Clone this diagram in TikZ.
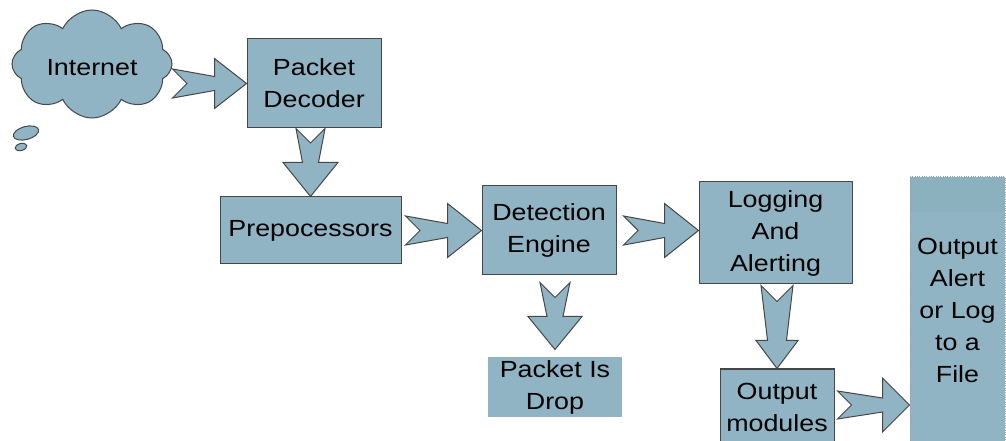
\documentclass[tikz,border=0pt]{standalone}
\usepackage{fontspec}
\setmainfont{Liberation Sans}[FakeStretch=1.15]
\usetikzlibrary{calc,shapes.symbols}

\definecolor{boxfill}{RGB}{144,180,196}
\definecolor{bandfill}{RGB}{139,176,190}
\definecolor{boxline}{RGB}{70,70,70}

% notched block arrow: from, to, tail half width, neck half width, head half width, head length
\newcommand{\notcharrow}[6]{%
  \path[arrowbody] let \p1=#1, \p2=#2,
      \n1={atan2(\y2-\y1,\x2-\x1)}, \n2={veclen(\x2-\x1,\y2-\y1)} in
    [shift={(\p1)}, rotate=\n1]
    (0pt,#3) -- ({\n2-#6},#4) -- ({\n2-#6},#5) -- ({\n2+0pt},0pt)
    -- ({\n2-#6},-#5) -- ({\n2-#6},-#4) -- (0pt,-#3) -- (#3,0pt) -- cycle;}

\tikzset{
  stage/.style={draw=boxline, fill=boxfill, line width=0.75pt, align=center, inner sep=0pt},
  arrowbody/.style={draw=boxline, fill=boxfill, line width=0.75pt, line join=miter},
}

\begin{document}
\begin{tikzpicture}[x=0.75pt, y=-0.75pt, font=\fontsize{17.5}{24}\selectfont]
    \clip (0,0) rectangle (1006,441);

    % The source cloud and its two small bubbles
    \node[stage, cloud, cloud puffs=8, cloud puff arc=130, cloud ignores aspect,
          minimum width=120pt, minimum height=81pt, text height=17.8pt, text depth=0pt]
          (internet) at (92,64) {Internet};
    \draw[stage, rotate around={15:(26,133)}] (26,133) ellipse [x radius=13, y radius=6.5];
    \draw[stage, rotate around={15:(21,147)}] (21,147) ellipse [x radius=6, y radius=3.5];

    % Stages
    \node[stage, minimum width=100.5pt, minimum height=66.75pt] (decoder) at (314,83.5) {Packet\\Decoder};
    \node[stage, minimum width=135.75pt, minimum height=50.25pt] (prep) at (310.5,230.5) {Prepocessors};
    \node[stage, minimum width=100.5pt, minimum height=66.75pt] (detect) at (549,230.5) {Detection\\Engine};
    \node[stage, draw=none, minimum width=100.5pt, minimum height=45pt] (drop) at (555,387) {Packet Is\\Drop};
    \node[stage, minimum width=114.75pt, minimum height=76.5pt] (logging) at (775.5,233) {Logging\\And\\Alerting};
    \node[stage, minimum width=85.5pt, minimum height=57pt] (outmod) at (777,407) {Output\\modules};
    \node[stage, draw=boxline!50, densely dotted, minimum width=71.25pt, minimum height=199.5pt,
          path picture={\fill[bandfill] (path picture bounding box.north west)
            rectangle ([yshift=-26pt]path picture bounding box.north east);}]
          (outfile) at (957.5,310) {Output\\Alert\\or Log\\to a\\File};

    % Block arrows between the stages
    \notcharrow{(internet.east |- decoder.west)}{(decoder.west)}{10.9pt}{5.25pt}{18.75pt}{24pt}
    \notcharrow{(decoder.south -| prep.north)}{(prep.north)}{10.9pt}{6pt}{20.6pt}{25.5pt}
    \notcharrow{($(prep.east)+(4,0)$)}{(detect.west)}{10.9pt}{5.25pt}{20.25pt}{25.5pt}
    \notcharrow{($(detect.east)+(7,0)$)}{(logging.west |- detect.east)}{10.9pt}{5.25pt}{20.25pt}{25.5pt}
    \notcharrow{($(drop.north |- detect.south)+(0,7)$)}{($(drop.north)+(0,-7)$)}{11.25pt}{6pt}{20.25pt}{24.75pt}
    \notcharrow{($(outmod.north |- logging.south)+(0,1)$)}{(outmod.north)}{12pt}{7.1pt}{15.75pt}{21pt}
    \notcharrow{($(outmod.east)+(3,-2)$)}{($(outfile.west |- outmod.east)+(0,-2)$)}{10.5pt}{5.25pt}{20.25pt}{20.25pt}
\end{tikzpicture}
\end{document}
